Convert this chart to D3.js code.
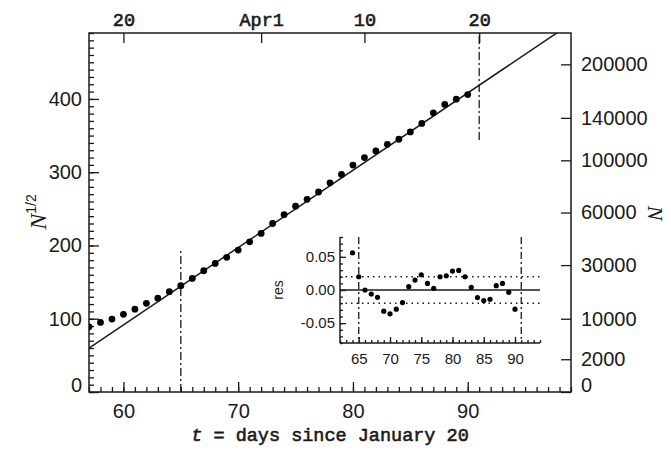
<!DOCTYPE html>
<html><head><meta charset="utf-8">
<script src="https://cdn.jsdelivr.net/npm/d3@7"></script>
<style>body{margin:0;background:#fff} svg{display:block}</style>
</head><body>
<script>
// ---- data ----
const days   = [57,58,59,60,61,62,63,64,65,66,67,68,69,70,71,72,73,74,75,76,77,78,79,80,81,82,83,84,85,86,87,88,89,90];
const sqrtN  = [89,95,99.6,106,113,121,128,137,145,155,165.5,175.5,183.8,193.7,205,216.5,230,242,253.7,263,273,285.5,297,309.7,320,329,338,345,355,366.6,381,392.5,399.7,406];
const fitT0 = 57, fitIntercept = 60, fitSlope = 10.55;
const resDays   = [64,65,66,67,68,69,70,71,72,73,74,75,76,77,78,79,80,81,82,83,84,85,86,87,88,89,90];
const resValues = [0.056,0.020,0.000,-0.006,-0.011,-0.032,-0.036,-0.029,-0.019,0.005,0.015,0.023,0.010,0.0025,0.020,0.0215,0.0285,0.0295,0.020,0.004,-0.0115,-0.016,-0.014,0.0065,0.010,-0.0035,-0.029];
const markerDays = [65, 91];
const markerLow  = [0, 344];
const markerHigh = [195, 490];
const bottomTicks = [60,70,80,90];
const leftTicks = [0,100,200,300,400];
const rightTickValues = [0,2000,10000,30000,60000,100000,140000,200000];
const topTickDays = [60,72,81,91];
const topTickLabels = ["20","Apr1","10","20"];
const insetXTicks = [65,70,75,80,85,90];
const insetYTicks = [-0.05,0,0.05];
const resBand = [-0.02, 0.02];

// ---- drawing ----
const W = 671, H = 452, ink = "#1a1a1a";
const svg = d3.select("body").append("svg").attr("width",W).attr("height",H);
svg.append("rect").attr("width",W).attr("height",H).attr("fill","#fff");

const m = {l:89, r:571, t:33, b:392};
const x = d3.scaleLinear([57,99],[m.l,m.r]);
const y = d3.scaleLinear([0,490],[m.b,m.t]);

svg.append("clipPath").attr("id","clipMain").append("rect")
  .attr("x",m.l).attr("y",m.t).attr("width",m.r-m.l).attr("height",m.b-m.t);

const sansTick = "'Liberation Sans', Arial, sans-serif";
const monoFont = "'Liberation Mono', 'Courier New', monospace";
const serifFont = "'Liberation Serif', 'Times New Roman', serif";

function style(g, font, size){
  g.select(".domain").remove();
  g.selectAll("line").attr("stroke",ink).attr("stroke-width",1.3);
  g.selectAll("text").attr("fill",ink).style("font-family",font).style("font-size",size+"px");
  return g;
}

// main axes
svg.append("g").attr("transform",`translate(0,${m.b})`)
  .call(d3.axisBottom(x).tickValues(d3.range(57,100)).tickSize(-5).tickFormat(""))
  .call(g=>style(g,sansTick,20));
svg.append("g").attr("transform",`translate(0,${m.b})`)
  .call(d3.axisBottom(x).tickValues(bottomTicks).tickSize(-10).tickPadding(12))
  .call(g=>style(g,sansTick,20));
svg.append("g").attr("transform",`translate(0,${m.t})`)
  .call(d3.axisTop(x).tickValues(topTickDays).tickSize(-10).tickPadding(7).tickFormat((d,i)=>topTickLabels[i]))
  .call(g=>style(g,monoFont,18.5)).selectAll("text")
  .attr("stroke",ink).attr("stroke-width",0.6);
svg.append("g").attr("transform",`translate(${m.l},0)`)
  .call(d3.axisLeft(y).tickValues(d3.range(0,491,10)).tickSize(-5).tickFormat(""))
  .call(g=>style(g,sansTick,20));
const gl = svg.append("g").attr("transform",`translate(${m.l},0)`)
  .call(d3.axisLeft(y).tickValues(leftTicks).tickSize(-10).tickPadding(7))
  .call(g=>style(g,sansTick,20));
gl.selectAll("text").filter(d=>d===0).attr("y",-7);
const gr = svg.append("g").attr("transform",`translate(${m.r},0)`)
  .call(d3.axisRight(y).tickValues(rightTickValues.map(Math.sqrt)).tickSize(-10).tickPadding(10).tickFormat((d,i)=>rightTickValues[i]))
  .call(g=>style(g,sansTick,20));
gr.selectAll("text").filter(d=>d===0).attr("y",-7);

svg.append("rect").attr("x",m.l).attr("y",m.t).attr("width",m.r-m.l).attr("height",m.b-m.t)
  .attr("fill","none").attr("stroke",ink).attr("stroke-width",1.5);

// fit line
const main = svg.append("g").attr("clip-path","url(#clipMain)");
const fit = t => fitIntercept + fitSlope*(t-fitT0);
main.append("path").datum(x.domain())
  .attr("d", d3.line().x(d=>x(d)).y(d=>y(fit(d))))
  .attr("fill","none").attr("stroke",ink).attr("stroke-width",1.5);
// markers
main.selectAll("line.mk").data(markerDays).join("line")
  .attr("x1",d=>x(d)).attr("x2",d=>x(d))
  .attr("y1",(d,i)=>y(markerLow[i])).attr("y2",(d,i)=>y(markerHigh[i]))
  .attr("stroke",ink).attr("stroke-width",1.3).attr("stroke-dasharray","8,3,2,3");
// points
main.selectAll("circle").data(days).join("circle")
  .attr("cx",d=>x(d)).attr("cy",(d,i)=>y(sqrtN[i])).attr("r",3.4).attr("fill","#000");

// axis titles
svg.append("text").attr("x",330).attr("y",441).attr("text-anchor","middle")
  .style("font-family",monoFont).style("font-size","18.5px").attr("stroke",ink).attr("stroke-width",0.6).attr("fill",ink)
  .call(t=>{t.append("tspan").style("font-style","italic").text("t");t.append("tspan").text(" = days since January 20");});
const ly = svg.append("text").attr("transform","translate(46,212) rotate(-90)").attr("text-anchor","middle").attr("fill",ink);
ly.append("tspan").style("font-family",serifFont).style("font-style","italic").style("font-size","24px").text("N");
ly.append("tspan").style("font-family",sansTick).style("font-size","14px").attr("dy","-10").text("1/2");
svg.append("text").attr("transform","translate(648,213) rotate(90)").attr("text-anchor","middle").attr("fill",ink)
  .style("font-family",serifFont).style("font-style","italic").style("font-size","22px").text("N");

// ---- inset ----
const ix = d3.scaleLinear([62,94],[340,540]);
const iy = d3.scaleLinear([-0.08,0.08],[343,237]);
const fmt = d => (d<0?"-":"") + d3.format(".2f")(Math.abs(d));
const inset = svg.append("g");
inset.append("g").attr("transform",`translate(0,${iy.range()[0]})`)
  .call(d3.axisBottom(ix).tickValues(d3.range(62,95)).tickSize(-3).tickFormat(""))
  .call(g=>style(g,sansTick,15));
inset.append("g").attr("transform",`translate(0,${iy.range()[0]})`)
  .call(d3.axisBottom(ix).tickValues(insetXTicks).tickSize(-6).tickPadding(10))
  .call(g=>style(g,sansTick,15));
inset.append("g").attr("transform",`translate(${ix.range()[0]},0)`)
  .call(d3.axisLeft(iy).tickValues(d3.range(-8,9).map(v=>v/100)).tickSize(-3).tickFormat(""))
  .call(g=>style(g,sansTick,15));
inset.append("g").attr("transform",`translate(${ix.range()[0]},0)`)
  .call(d3.axisLeft(iy).tickValues(insetYTicks).tickSize(-6).tickPadding(5).tickFormat(fmt))
  .call(g=>style(g,sansTick,15));
inset.append("line").attr("x1",ix.range()[0]).attr("x2",ix.range()[0]).attr("y1",iy.range()[1]).attr("y2",iy.range()[0])
  .attr("stroke",ink).attr("stroke-width",1.5);
inset.append("line").attr("x1",ix.range()[0]).attr("x2",ix.range()[1]).attr("y1",iy.range()[0]).attr("y2",iy.range()[0])
  .attr("stroke",ink).attr("stroke-width",1.5);
inset.append("line").attr("x1",ix.range()[0]).attr("x2",ix.range()[1]).attr("y1",iy(0)).attr("y2",iy(0))
  .attr("stroke",ink).attr("stroke-width",1.5);
inset.selectAll("line.band").data(resBand).join("line").attr("class","band")
  .attr("x1",ix.range()[0]).attr("x2",ix.range()[1]).attr("y1",d=>iy(d)).attr("y2",d=>iy(d))
  .attr("stroke",ink).attr("stroke-width",1.3).attr("stroke-dasharray","1.5,4");
inset.selectAll("line.imk").data(markerDays).join("line").attr("class","imk")
  .attr("x1",d=>ix(d)).attr("x2",d=>ix(d)).attr("y1",iy.range()[1]).attr("y2",iy.range()[0])
  .attr("stroke",ink).attr("stroke-width",1.3).attr("stroke-dasharray","7,3,2,3");
inset.selectAll("circle").data(resDays).join("circle")
  .attr("cx",d=>ix(d)).attr("cy",(d,i)=>iy(resValues[i])).attr("r",2.6).attr("fill","#000");
inset.append("text").attr("transform","translate(283,290) rotate(-90)").attr("text-anchor","middle")
  .style("font-family",sansTick).style("font-size","14px").attr("fill",ink).text("res");
</script>
</body></html>
